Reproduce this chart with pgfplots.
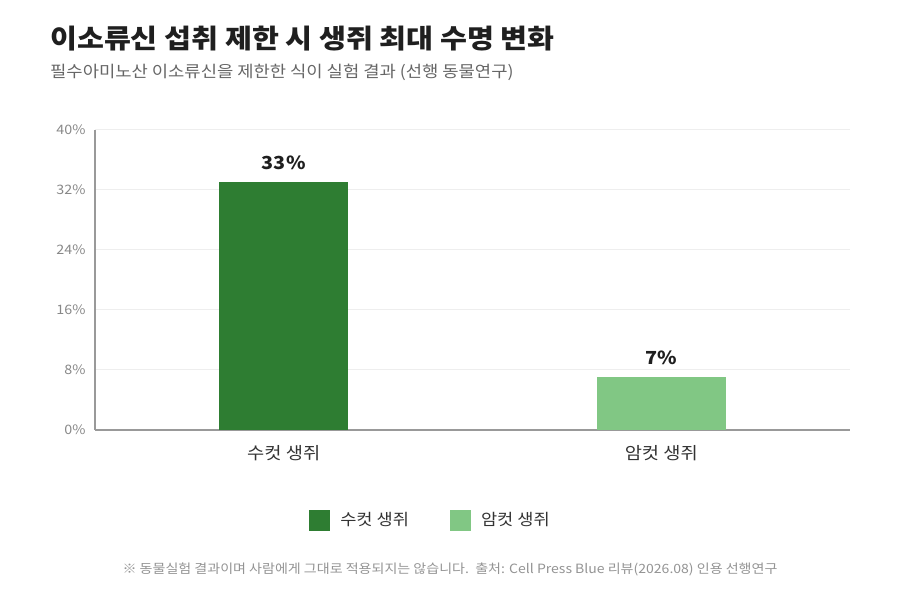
\documentclass[border=0pt]{standalone}
\usepackage{pgfplots}
\pgfplotsset{compat=1.18}
\usepackage{fontspec}
\setmainfont{Noto Sans CJK KR}[FakeStretch=1.1]
\definecolor{dg}{HTML}{2E7D32}
\definecolor{lg}{HTML}{81C784}
\definecolor{axg}{HTML}{999999}
\definecolor{tickg}{HTML}{888888}
\definecolor{gridg}{HTML}{EEEEEE}
\begin{document}
\begin{tikzpicture}
\fill[white] (0pt,0pt) rectangle (900pt,600pt);
\node[anchor=base west,font=\fontsize{26.6}{30}\selectfont\bfseries,text=black!88,inner sep=0] at (50pt,551pt) {이소류신 섭취 제한 시 생쥐 최대 수명 변화};
\node[anchor=base west,font=\fontsize{16.1}{19}\selectfont,text=black!60,inner sep=0] at (50pt,522pt) {필수아미노산 이소류신을 제한한 식이 실험 결과 (선행 동물연구)};
\begin{axis}[
  at={(95pt,170pt)}, anchor=south west,
  width=755pt, height=300pt, scale only axis,
  xmin=-0.5, xmax=1.5, ymin=0, ymax=40,
  axis x line*=bottom, axis y line*=left,
  axis line style={axg, line width=1.5pt},
  x axis line style={-}, y axis line style={-},
  xtick={0,1}, xticklabels={수컷 생쥐, 암컷 생쥐},
  ytick={0,8,16,24,32,40},
  yticklabel={\pgfmathprintnumber{\tick}\%},
  /pgf/number format/assume math mode=true,
  major tick length=0pt,
  ymajorgrids, grid style={gridg, line width=1pt},
  yticklabel style={font=\fontsize{13}{15}\selectfont, text=tickg, xshift=-6pt},
  xticklabel style={font=\fontsize{17}{20}\selectfont, text=black!80, yshift=-12pt},
  ybar, bar width=129pt,
  nodes near coords={\pgfmathprintnumber{\pgfplotspointmeta}\%},
  every node near coord/.append style={font=\fontsize{18}{21}\selectfont\bfseries, text=black!88, yshift=9pt},
  legend style={at={(0.5,-0.3)}, anchor=center, xshift=-42pt, draw=none, legend columns=2,
    font=\fontsize{16}{19}\selectfont, text=black!80,
    /tikz/every even column/.append style={column sep=39pt}},
  legend image code/.code={\fill[#1] (0pt,-10.5pt) rectangle (21pt,10.5pt); \path (29pt,0pt);},
  clip=false,
]
\addplot[fill=dg, draw=none, bar shift=0pt] coordinates {(0,33)};
\addlegendentry{수컷 생쥐}
\addplot[fill=lg, draw=none, bar shift=0pt] coordinates {(1,7)};
\addlegendentry{암컷 생쥐}
\end{axis}
\node[anchor=center,font=\fontsize{12.75}{15}\selectfont,text=black!42,inner sep=0] at (450pt,31pt) {※ 동물실험 결과이며 사람에게 그대로 적용되지는 않습니다.\ \ 출처: Cell Press Blue 리뷰(2026.08) 인용 선행연구};
\end{tikzpicture}
\end{document}
